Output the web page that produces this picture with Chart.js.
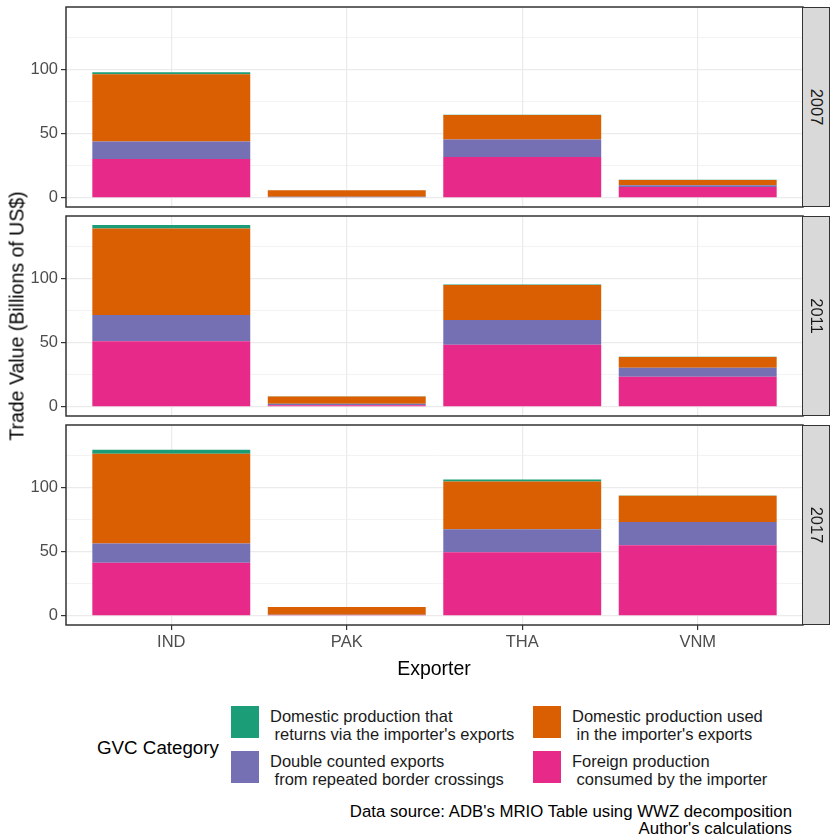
<!DOCTYPE html>
<html><head><meta charset="utf-8">
<script src="https://cdn.jsdelivr.net/npm/chart.js@4"></script>
<style>
body{margin:0;background:#fff;width:831px;height:837px;position:relative;overflow:hidden;font-family:"Liberation Sans",Arial,sans-serif;}
.abs{position:absolute;}
.strip{position:absolute;left:802px;width:28px;height:200px;background:#D9D9D9;border:1.5px solid #333;box-sizing:border-box;}
.strip span{position:absolute;left:50%;top:50%;transform:translate(-50%,-50%) rotate(90deg);font-size:16.5px;color:#1A1A1A;white-space:nowrap;}
.key{position:absolute;width:28px;height:32px;}
.lab{position:absolute;font-size:16.5px;line-height:18.3px;white-space:pre;color:#1A1A1A;}
</style></head><body>
<div id="charts"></div>
<div class="strip" style="top:7px"><span>2007</span></div>
<div class="strip" style="top:216px"><span>2011</span></div>
<div class="strip" style="top:425px"><span>2017</span></div>
<div class="abs" style="left:17px;top:316px;transform:translate(-50%,-50%) rotate(-90deg);font-size:19.5px;white-space:nowrap;color:#000;">Trade Value (Billions of US$)</div>
<div class="abs" style="left:434px;top:668px;transform:translate(-50%,-50%);font-size:19.5px;white-space:nowrap;color:#000;">Exporter</div>
<div class="abs" style="left:97px;top:748px;transform:translateY(-50%);font-size:18.75px;white-space:nowrap;color:#000;">GVC Category</div>
<div id="legend"></div>
<div class="abs" style="right:39px;top:804px;font-size:16.8px;line-height:16.5px;text-align:right;white-space:pre;color:#000;">Data source: ADB's MRIO Table using WWZ decomposition
Author's calculations</div>
<script>
const categories = ['IND', 'PAK', 'THA', 'VNM'];
const years = ['2007', '2011', '2017'];
const seriesLabels = [
  'Foreign production\n consumed by the importer',
  'Double counted exports\n from repeated border crossings',
  'Domestic production used\n in the importer\'s exports',
  'Domestic production that\n returns via the importer\'s exports'
];
const seriesColors = ['#E7298A', '#7570B3', '#D95F02', '#1B9E77'];

// values in billions of US$, stacked bottom to top
const foreign_2007   = [30.3, 0.6, 31.9, 8.5];
const double_2007    = [13.7, 0.3, 13.7, 1.3];
const domUsed_2007   = [52.6, 5.0, 19.2, 4.2];
const domReturn_2007 = [1.6, 0.05, 0.2, 0.1];

const foreign_2011   = [51.2, 1.2, 48.6, 23.6];
const double_2011    = [20.5, 1.2, 19.2, 7.0];
const domUsed_2011   = [67.6, 5.8, 27.5, 8.4];
const domReturn_2011 = [2.7, 0.1, 0.3, 0.1];

const foreign_2017   = [41.5, 0.8, 49.7, 55.2];
const double_2017    = [15.0, 0.2, 17.9, 18.1];
const domUsed_2017   = [70.2, 6.0, 37.3, 20.5];
const domReturn_2017 = [3.1, 0.05, 1.6, 0.2];

const yTicks = [0, 25, 50, 75, 100, 125];

const panelValues = [
  [foreign_2007, double_2007, domUsed_2007, domReturn_2007],
  [foreign_2011, double_2011, domUsed_2011, domReturn_2011],
  [foreign_2017, double_2017, domUsed_2017, domReturn_2017]
];

// shared y range like ggplot (5% expansion of data range)
let maxTotal = 0;
panelValues.forEach(p => categories.forEach((c, i) => {
  const t = p.reduce((a, s) => a + s[i], 0);
  if (t > maxTotal) maxTotal = t;
}));
const Y_MIN = -0.05 * maxTotal, Y_MAX = 1.05 * maxTotal;

Chart.defaults.font.family = '"Liberation Sans", Arial, sans-serif';
Chart.defaults.font.size = 16.5;

const borderPlugin = {
  id: 'panelBorder',
  afterDatasetsDraw(chart) {
    const a = chart.chartArea, ctx = chart.ctx;
    ctx.save();
    ctx.strokeStyle = '#333333';
    ctx.lineWidth = 1.5;
    ctx.strokeRect(a.left, a.top, a.right - a.left, a.bottom - a.top);
    ctx.restore();
  }
};

const panelTops = [7, 216, 425];

function zeroPad(s) { s.paddingTop = 0; s.paddingBottom = 0; s.paddingLeft = 0; s.paddingRight = 0; }

function makePanel(idx) {
  const showX = idx === 2;
  const H = showX ? 242 : 204;
  const wrap = document.createElement('div');
  wrap.className = 'abs';
  wrap.style.left = '0px';
  wrap.style.top = (panelTops[idx] - 2) + 'px';
  const cv = document.createElement('canvas');
  cv.width = 806; cv.height = H;
  cv.style.width = '806px'; cv.style.height = H + 'px';
  wrap.appendChild(cv);
  document.getElementById('charts').appendChild(wrap);
  const vals = panelValues[idx];
  new Chart(cv, {
    type: 'bar',
    data: {
      datasets: vals.map((arr, k) => ({
        label: seriesLabels[k],
        data: arr.map((v, i) => ({ x: i + 1, y: v })),
        backgroundColor: seriesColors[k],
        borderWidth: 0,
        categoryPercentage: 0.9,
        barPercentage: 1.0
      }))
    },
    options: {
      responsive: false, animation: false, devicePixelRatio: 1,
      layout: { padding: { top: 2, right: 3, left: 0, bottom: showX ? 0 : 2 } },
      plugins: { legend: { display: false }, tooltip: { enabled: false } },
      scales: {
        x: {
          type: 'linear', stacked: true, min: 0.4, max: 4.6, offset: false,
          afterBuildTicks: s => { s.ticks = [1, 2, 3, 4].map(v => ({ value: v })); },
          afterFit: s => { s.height = showX ? 40 : 0; zeroPad(s); },
          grid: { offset: false, color: '#EBEBEB', lineWidth: 1.2, drawTicks: showX, tickLength: 5, tickColor: '#333333', tickWidth: 1.2 },
          border: { display: false },
          ticks: { display: showX, padding: 3, color: '#4D4D4D', font: { size: 16.5 }, autoSkip: false, maxRotation: 0,
                   callback: v => categories[v - 1] || '' }
        },
        y: {
          stacked: true, min: Y_MIN, max: Y_MAX,
          afterBuildTicks: s => { s.ticks = yTicks.map(v => ({ value: v })); },
          afterFit: s => { s.width = 66; zeroPad(s); },
          grid: {
            color: '#EBEBEB',
            lineWidth: c => (c.tick && c.tick.value % 50 === 0) ? 1.2 : 0.6,
            tickColor: c => (c.tick && c.tick.value % 50 === 0) ? '#333333' : 'rgba(0,0,0,0)',
            tickLength: 5, tickWidth: 1.2
          },
          border: { display: false },
          ticks: { padding: 3, color: '#4D4D4D', font: { size: 16.5 }, autoSkip: false,
                   callback: v => (v % 50 === 0) ? String(v) : '' }
        }
      }
    },
    plugins: [borderPlugin]
  });
}
[0, 1, 2].forEach(makePanel);

// legend (ggplot-like, 2 columns)
const legendItems = [
  { s: 3, left: 231, top: 706 },
  { s: 1, left: 231, top: 751 },
  { s: 2, left: 533, top: 706 },
  { s: 0, left: 533, top: 751 }
];
const lg = document.getElementById('legend');
legendItems.forEach(it => {
  const k = document.createElement('div');
  k.className = 'key';
  k.style.left = it.left + 'px'; k.style.top = it.top + 'px';
  k.style.background = seriesColors[it.s];
  lg.appendChild(k);
  const l = document.createElement('div');
  l.className = 'lab';
  l.style.left = (it.left + 39) + 'px'; l.style.top = (it.top + 1) + 'px';
  l.textContent = seriesLabels[it.s];
  lg.appendChild(l);
});
</script>
</body></html>
